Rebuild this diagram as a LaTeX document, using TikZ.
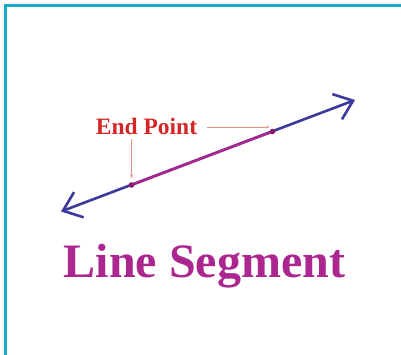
\documentclass[tikz,border=0pt]{standalone}
\usepackage{fontspec}
\setmainfont{Liberation Serif}
\usepackage{tikz}
\usetikzlibrary{arrows.meta,calc,positioning}
\definecolor{Teal}{HTML}{17A9C9}
\definecolor{Indigo}{HTML}{3B3A9C}
\definecolor{Magenta}{HTML}{AC2690}
\definecolor{Plum}{HTML}{8A1A6C}
\definecolor{Crimson}{HTML}{D42626}
\definecolor{Salmon}{HTML}{E6907F}

\begin{document}
\begin{tikzpicture}[x=1pt,y=-1pt,
    rayline/.style={Indigo,line width=2.6pt,{Straight Barb[length=17pt,width=27pt,line width=2.6pt]}-{Straight Barb[length=17pt,width=27pt,line width=2.6pt]}},
    segline/.style={Magenta,line width=2.6pt},
    pointer/.style={Salmon,line width=0.9pt,-{Stealth[length=3.5pt,width=3pt]}},
    endlabel/.style={Crimson,font=\fontsize{23.5}{25}\selectfont\bfseries,inner sep=1pt},
    titlelabel/.style={Magenta,font=\fontsize{48}{52}\selectfont\bfseries,inner sep=0pt}]
        \useasboundingbox (0,0) rectangle (401,355);
        \draw[Teal,line width=3.4pt] (5.6,355) -- (5.6,5.6) -- (401,5.6);
        \coordinate (tipL) at (61,211.5);
        \coordinate (tipR) at (355,100);
        \coordinate (ptA) at (131.5,185);
        \coordinate (ptB) at (272.5,131.5);
        \draw[rayline] (tipL) -- (tipR);
        \draw[segline] (ptA) -- (ptB);
        \foreach \p in {ptA,ptB}{\fill[Plum] (\p) circle (2.8);}
        \node[endlabel,anchor=base] (endlbl) at (146.5,135) {End Point};
        \draw[pointer,shorten <=9pt,shorten >=3pt] (endlbl.east) -- (endlbl.east -| ptB);
        \draw[pointer,shorten <=3pt,shorten >=7pt] (endlbl.south -| ptA) -- (ptA);
        \node[titlelabel,anchor=base] (title) at (204.5,277) {Line Segment};
      \end{tikzpicture}
\end{document}
